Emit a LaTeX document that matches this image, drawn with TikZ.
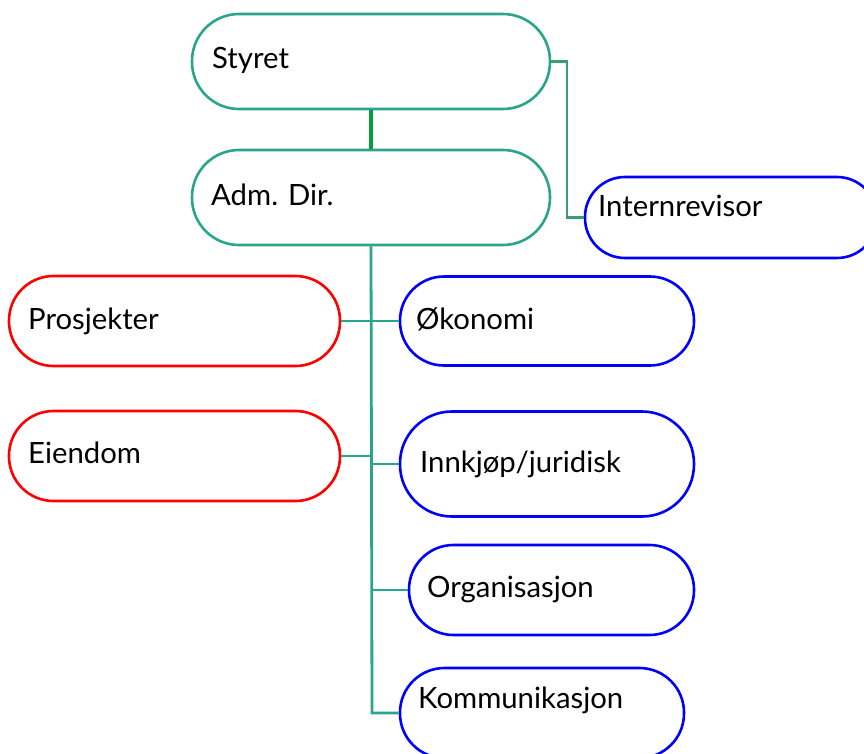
\documentclass[tikz,border=0pt]{standalone}
\usepackage{fontspec}
\setmainfont{Lato}
\definecolor{teal1}{HTML}{2AA58D}
\definecolor{green1}{HTML}{00A040}
\definecolor{green2}{HTML}{3A9E6E}
\definecolor{blue1}{HTML}{0000FF}
\definecolor{red1}{HTML}{FF0000}
\begin{document}
\begin{tikzpicture}[x=1pt,y=-1pt,
  pill/.style={draw, line width=2.6pt, fill=white, rectangle, inner sep=0pt},
  tealbox/.style={pill, draw=teal1},
  bluebox/.style={pill, draw=blue1},
  redbox/.style={pill, draw=red1},
  lbl/.style={anchor=base west, inner sep=0pt, font=\fontsize{29.3}{34}\selectfont},
  conn/.style={draw=teal1, line width=2.8pt},
  ]
\useasboundingbox (0,0) rectangle (864,754);
\clip (0,0) rectangle (864,754);
\coordinate (trunkend) at (372,713);
\coordinate (j1) at (372,321);
\coordinate (j2) at (372,456);
\coordinate (j3) at (372,464);
\coordinate (j4) at (372,590);
\coordinate (bend1) at (567,61.5);
\coordinate (bend2) at (567,217.5);
% boxes
\node[tealbox, minimum width=358pt, minimum height=95pt, rounded corners=47pt] (styret) at (371,61.5) {};
\node[tealbox, minimum width=358pt, minimum height=95pt, rounded corners=47pt] (adm) at (371,197.5) {};
\node[bluebox, minimum width=292pt, minimum height=81pt, rounded corners=40pt] (intern) at (731,217.5) {};
\node[redbox, minimum width=331pt, minimum height=90pt, rounded corners=44.5pt] (prosj) at (174.5,321) {};
\node[redbox, minimum width=331pt, minimum height=90pt, rounded corners=44.5pt] (eiend) at (174.5,456) {};
\node[bluebox, minimum width=294pt, minimum height=89pt, rounded corners=44pt] (okon) at (547,321) {};
\node[bluebox, minimum width=294pt, minimum height=105pt, rounded corners=52pt] (innk) at (547,464) {};
\node[bluebox, minimum width=285pt, minimum height=90pt, rounded corners=44.5pt] (org) at (551.5,590) {};
\node[bluebox, minimum width=284pt, minimum height=90pt, rounded corners=44.5pt] (komm) at (542,713) {};
% connectors
\draw[draw=green1, line width=3.5pt] (styret.south) -- (adm.north);
\draw[draw=green2, line width=2.6pt] (styret.east) -- (bend1) -- (bend2) -- (intern.west);
\draw[conn] (adm.south) -- (trunkend) -- (komm.west);
\draw[conn] (prosj.east) -- (j1) -- (okon.west);
\draw[conn] (eiend.east) -- (j2);
\draw[conn] (j3) -- (innk.west);
\draw[conn] (j4) -- (org.west);
% labels
\node[lbl] (tstyret) at (212,69) {Styret};
\node[lbl] (tadm) at (211,205) {Adm. Dir.};
\node[lbl] (tintern) at (598,216) {Internrevisor};
\node[lbl] (tprosj) at (28,329) {Prosjekter};
\node[lbl] (tokon) at (416,329) {Økonomi};
\node[lbl] (teiend) at (28,463) {Eiendom};
\node[lbl] (tinnk) at (420,472) {Innkjøp/juridisk};
\node[lbl] (torg) at (427,597) {Organisasjon};
\node[lbl] (tkomm) at (418,708) {Kommunikasjon};
\end{tikzpicture}
\end{document}
